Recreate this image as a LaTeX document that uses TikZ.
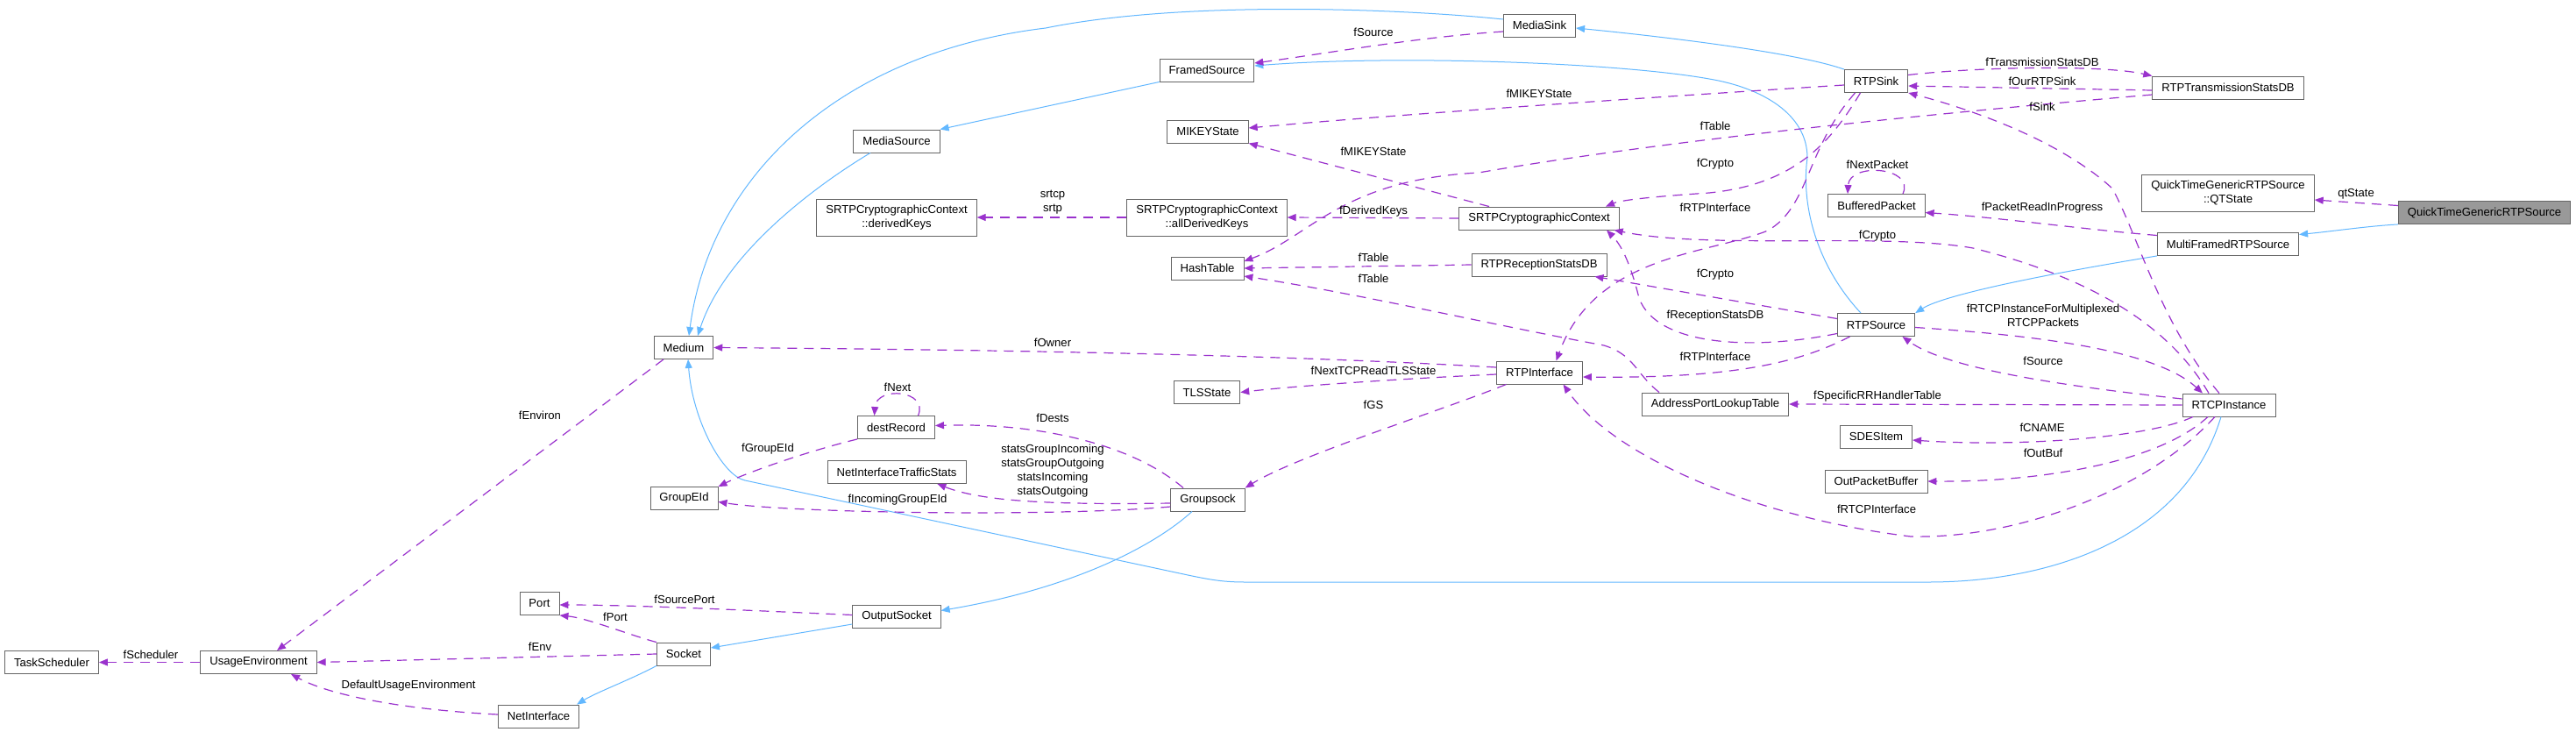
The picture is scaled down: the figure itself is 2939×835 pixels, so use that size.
\documentclass[tikz,border=0pt]{standalone}
\usepackage{fontspec}
\setmainfont{Liberation Sans}
\usepackage{xcolor}
\usepackage{tikz}
\usetikzlibrary{arrows.meta,positioning,calc}
\definecolor{usepurple}{RGB}{154,50,205}
\definecolor{inhblue}{RGB}{99,184,255}
\definecolor{boxgray}{RGB}{102,102,102}
\definecolor{focusgray}{RGB}{153,153,153}
\newcommand{\dgfont}{\fontsize{13.1}{16}\selectfont}

\begin{document}
\begin{tikzpicture}[x=1pt, y=-1pt,
    cls/.style={rectangle, draw=boxgray, fill=white, line width=0.9pt, minimum height=26pt, inner xsep=10.5pt, inner ysep=0pt, font=\dgfont, align=center},
    twoline/.style={cls, minimum height=42pt},
    focus/.style={cls, fill=focusgray},
    usage/.style={draw=usepurple, line width=1.2pt, dash pattern=on 11pt off 8pt, -{Triangle[length=10pt, width=8pt]}},
    inherit/.style={draw=inhblue, line width=1pt, -{Triangle[length=10pt, width=8pt]}},
    lbl/.style={font=\dgfont, inner sep=0pt, align=center}
]

    \path[fill=white, use as bounding box] (0,0) rectangle (2939,835);

    \node[focus] (qtgrs) at (2834.5,242.5) {QuickTimeGenericRTPSource};
    \node[twoline] (qtstate) at (2542,220) {QuickTimeGenericRTPSource\\::QTState};
    \node[cls] (mfrtps) at (2542,278.5) {MultiFramedRTPSource};
    \node[cls] (rtsdb) at (2542,100) {RTPTransmissionStatsDB};
    \node[cls] (rtcp) at (2543,462) {RTCPInstance};

    \node[cls] (rtpsink) at (2140.5,92.5) {RTPSink};
    \node[cls] (bp) at (2141,234.5) {BufferedPacket};
    \node[cls] (rtpsource) at (2140.5,370.5) {RTPSource};
    \node[cls] (sdes) at (2140.5,498) {SDESItem};
    \node[cls] (opb) at (2140.5,549) {OutPacketBuffer};
    \node[cls] (aplt) at (1957,461) {AddressPortLookupTable};

    \node[cls] (mediasink) at (1756.5,29) {MediaSink};
    \node[cls] (srtpcc) at (1756,249) {SRTPCryptographicContext};
    \node[cls] (rtpsdb) at (1756,302) {RTPReceptionStatsDB};
    \node[cls] (rtpif) at (1756.5,425) {RTPInterface};

    \node[cls] (framed) at (1377,80) {FramedSource};
    \node[cls] (mikey) at (1378,150) {MIKEYState};
    \node[twoline] (adk) at (1377,248) {SRTPCryptographicContext\\::allDerivedKeys};
    \node[cls] (ht) at (1377.5,306) {HashTable};
    \node[cls] (tls) at (1377,447.5) {TLSState};
    \node[cls] (gsock) at (1378,570) {Groupsock};

    \node[cls] (mediasrc) at (1023,161) {MediaSource};
    \node[twoline] (dk) at (1023,248) {SRTPCryptographicContext\\::derivedKeys};
    \node[cls] (destrec) at (1022.5,487.5) {destRecord};
    \node[cls] (nits) at (1023,538.5) {NetInterfaceTrafficStats};
    \node[cls] (outsock) at (1023,703.5) {OutputSocket};

    \node[cls] (medium) at (780,396.5) {Medium};
    \node[cls] (groupeid) at (780.5,568.5) {GroupEId};
    \node[cls] (socket) at (780,746) {Socket};
    \node[cls] (port) at (615.5,688.5) {Port};
    \node[cls] (netif) at (614.5,817) {NetInterface};
    \node[cls] (usageenv) at (295,755.5) {UsageEnvironment};
    \node[cls] (tasksched) at (59,755.5) {TaskScheduler};

    \draw[inherit] ([yshift=7pt]mediasink.west) .. controls (1600,10) and (1350,0) .. (1193,32) .. controls (960,60) and (810,200) .. ([xshift=6pt]medium.north);
    \draw[inherit] ([xshift=-30pt]mediasrc.south) .. controls (950,200) and (830,280) .. ([xshift=16pt]medium.north);
    \draw[inherit] (framed.south west) -- (mediasrc.north east);
    \draw[inherit] (rtpsink.north west) .. controls (2050,60) and (1900,42) .. ([yshift=-3pt]mediasink.east);
    \draw[inherit] ([xshift=-17.5pt]rtpsource.north) .. controls (2070,300) and (2055,230) .. (2062,180) .. controls (2062,130) and (2010,100) .. (1950,90) .. controls (1850,72) and (1600,62) .. ([yshift=5pt]framed.east);
    \draw[inherit] (mfrtps.south west) .. controls (2350,310) and (2220,335) .. (rtpsource.north east);
    \draw[inherit] (qtgrs.south west) .. controls (2700,258) and (2660,264) .. ([yshift=11pt]mfrtps.east);
    \draw[inherit] ([xshift=-9pt]rtcp.south) .. controls (2490,620) and (2330,664) .. (2200,664) -- (1420,664) .. controls (1395,664) and (1380,661) .. (1360,657) -- (850,548) .. controls (825,543) and (790,480) .. ([xshift=5pt]medium.south);
    \draw[inherit] ([xshift=-18pt]gsock.south) .. controls (1320,620) and (1230,670) .. ([yshift=7pt]outsock.east);
    \draw[inherit] ([yshift=-8.5pt]outsock.west) -- ([yshift=7pt]socket.east);
    \draw[inherit] (socket.south west) .. controls (720,775) and (680,790) .. ([xshift=-3pt]netif.north east);

    \draw[usage] ([yshift=-7pt]mediasink.west) .. controls (1620,42) and (1520,60) .. ([yshift=8pt]framed.east);
    \draw[usage] ([yshift=-4.5pt]rtpsink.west) .. controls (1900,110) and (1600,130) .. ([yshift=4pt]mikey.east);
    \draw[usage] ([xshift=-57pt]srtpcc.north) -- (mikey.south east);
    \draw[usage] (srtpcc.west) -- (adk.east);
    \draw[usage] (adk.west) -- (dk.east);
    \draw[usage] ([yshift=-8pt]rtsdb.west) .. controls (2200,130) and (1900,160) .. (1687,197) .. controls (1530,205) and (1495,270) .. ([yshift=8pt]ht.east);
    \draw[usage] ([yshift=-3pt]rtsdb.west) -- ([yshift=-5.5pt]rtpsink.east);
    \draw[usage] ([yshift=7pt]rtpsink.east) .. controls (2260,76) and (2400,74) .. (rtsdb.north west);
    \draw[usage] ([xshift=-11pt]rtcp.north) .. controls (2465,370) and (2440,270) .. (2410,215) .. controls (2350,160) and (2250,125) .. (rtpsink.south east);
    \draw[usage] ([xshift=-18pt]rtpsink.south) .. controls (2090,160) and (2050,210) .. (1950,220) .. controls (1890,224) and (1850,228) .. ([xshift=76pt]srtpcc.north);
    \draw[usage] ([xshift=-24pt]rtpsink.south) .. controls (2060,170) and (2065,235) .. (2017,263) .. controls (1950,290) and (1820,290) .. ([xshift=19pt]rtpif.north);
    \draw[usage] ([yshift=7pt]rtpsource.west) -- ([xshift=-14pt]rtpsdb.south east);
    \draw[usage] ([yshift=-10pt]rtpsource.west) .. controls (2000,400) and (1890,395) .. (1870,340) .. controls (1860,300) and (1850,280) .. ([xshift=77pt]srtpcc.south);
    \draw[usage] ([xshift=-23pt]rtcp.north) .. controls (2480,380) and (2400,320) .. (2251,283) .. controls (2150,265) and (1950,285) .. ([xshift=-6pt]srtpcc.south east);
    \draw[usage] ([xshift=-30pt]rtpsource.south) .. controls (2060,410) and (1990,432) .. ([yshift=-5pt]rtpif.east);
    \draw[usage] ([xshift=-64pt]aplt.north) .. controls (1865,425) and (1865,405) .. (1830,394) .. controls (1700,370) and (1550,335) .. ([yshift=-9pt]ht.east);
    \draw[usage] (rtpsdb.west) -- (ht.east);
    \draw[usage] ([yshift=6pt]rtpif.west) .. controls (1550,410) and (1300,400) .. (medium.east);
    \draw[usage] ([yshift=-2pt]rtpif.west) .. controls (1600,432) and (1480,440) .. (tls.east);
    \draw[usage] ([xshift=-38pt]rtpif.south) .. controls (1640,470) and (1480,520) .. (gsock.north east);
    \draw[usage] ([yshift=7pt]rtcp.west) .. controls (2350,440) and (2220,420) .. ([xshift=30pt]rtpsource.south);
    \draw[usage] ([yshift=-3pt]rtpsource.east) .. controls (2330,383) and (2460,400) .. ([xshift=-30pt]rtcp.north);
    \draw[usage] (rtcp.west) -- (aplt.east);
    \draw[usage] ([xshift=-41pt]rtcp.south) .. controls (2450,500) and (2300,510) .. ([yshift=-4pt]sdes.east);
    \draw[usage] ([xshift=-24pt]rtcp.south) .. controls (2460,530) and (2320,550) .. (opb.east);
    \draw[usage] ([xshift=-16pt]rtcp.south) .. controls (2450,560) and (2300,615) .. (2180,612) .. controls (2000,590) and (1840,520) .. ([xshift=27pt]rtpif.south);
    \draw[usage] ([yshift=10pt]mfrtps.west) .. controls (2380,262) and (2280,248) .. ([yshift=-8pt]bp.east);
    \draw[usage] ([xshift=30pt]bp.north) .. controls (2185,190) and (2110,185) .. ([xshift=-33pt]bp.north);
    \draw[usage] ([yshift=8pt]qtgrs.west) -- ([yshift=-8pt]qtstate.east);
    \draw[usage] ([xshift=-23pt]medium.south) -- ([xshift=21pt]usageenv.north);
    \draw[usage] (usageenv.west) -- (tasksched.east);
    \draw[usage] (socket.west) -- (usageenv.east);
    \draw[usage] (socket.north west) .. controls (720,725) and (670,705) .. (port.south east);
    \draw[usage] ([yshift=2pt]outsock.west) .. controls (850,696) and (720,690) .. ([yshift=-1.5pt]port.east);
    \draw[usage] ([yshift=2pt]netif.west) .. controls (470,810) and (380,795) .. ([xshift=37pt]usageenv.south);
    \draw[usage] (destrec.south west) .. controls (920,515) and (850,540) .. (groupeid.north east);
    \draw[usage] ([xshift=25pt]destrec.north) .. controls (1060,445) and (1000,440) .. ([xshift=-25pt]destrec.north);
    \draw[usage] ([xshift=-28pt]gsock.north) .. controls (1290,505) and (1180,482) .. ([yshift=2pt]destrec.east);
    \draw[usage] ([yshift=-4pt]gsock.west) .. controls (1200,576) and (1120,572) .. ([xshift=-33pt]nits.south east);
    \draw[usage] ([yshift=-8pt]gsock.west) .. controls (1200,590) and (900,585) .. ([yshift=-4pt]groupeid.east);

    \node[lbl] (l-source1) at (1567,37) {fSource};
    \node[lbl] (l-mikey1) at (1756,107) {fMIKEYState};
    \node[lbl] (l-txstats) at (2330,71) {fTransmissionStatsDB};
    \node[lbl] (l-oursink) at (2330,93) {fOurRTPSink};
    \node[lbl] (l-sink) at (2330,122) {fSink};
    \node[lbl] (l-table1) at (1957,144) {fTable};
    \node[lbl] (l-mikey2) at (1567,173) {fMIKEYState};
    \node[lbl] (l-crypto1) at (1957,187) {fCrypto};
    \node[lbl] (l-nextpkt) at (2142,188) {fNextPacket};
    \node[lbl] (l-qtstate) at (2688,221) {qtState};
    \node[lbl] (l-srtp) at (1201,231) {srtcp\\srtp};
    \node[lbl] (l-rtpif1) at (1957,237) {fRTPInterface};
    \node[lbl] (l-readpkt) at (2330,237) {fPacketReadInProgress};
    \node[lbl] (l-derived) at (1567,241) {fDerivedKeys};
    \node[lbl] (l-crypto2) at (2142,269) {fCrypto};
    \node[lbl] (l-table2) at (1567,294) {fTable};
    \node[lbl] (l-crypto3) at (1957,313) {fCrypto};
    \node[lbl] (l-table3) at (1567,318) {fTable};
    \node[lbl] (l-rtcpmux) at (2331,360) {fRTCPInstanceForMultiplexed\\RTCPPackets};
    \node[lbl] (l-rxstats) at (1957,360) {fReceptionStatsDB};
    \node[lbl] (l-owner) at (1201,391) {fOwner};
    \node[lbl] (l-rtpif2) at (1957,407) {fRTPInterface};
    \node[lbl] (l-source2) at (2331,412) {fSource};
    \node[lbl] (l-tlsstate) at (1567,423) {fNextTCPReadTLSState};
    \node[lbl] (l-next) at (1024,442) {fNext};
    \node[lbl] (l-rrtable) at (2142,452) {fSpecificRRHandlerTable};
    \node[lbl] (l-gs) at (1567,462) {fGS};
    \node[lbl] (l-environ) at (616,474) {fEnviron};
    \node[lbl] (l-dests) at (1201,477) {fDests};
    \node[lbl] (l-cname) at (2330,488) {fCNAME};
    \node[lbl] (l-groupeid) at (876,512) {fGroupEId};
    \node[lbl] (l-outbuf) at (2331,517) {fOutBuf};
    \node[lbl] (l-stats) at (1201,537) {statsGroupIncoming\\statsGroupOutgoing\\statsIncoming\\statsOutgoing};
    \node[lbl] (l-ingroup) at (1024,570) {fIncomingGroupEId};
    \node[lbl] (l-rtcpif) at (2141,581) {fRTCPInterface};
    \node[lbl] (l-srcport) at (781,684) {fSourcePort};
    \node[lbl] (l-port) at (702,704) {fPort};
    \node[lbl] (l-env) at (616,738) {fEnv};
    \node[lbl] (l-sched) at (172,747) {fScheduler};
    \node[lbl] (l-defenv) at (466,782) {DefaultUsageEnvironment};

\end{tikzpicture}
\end{document}
